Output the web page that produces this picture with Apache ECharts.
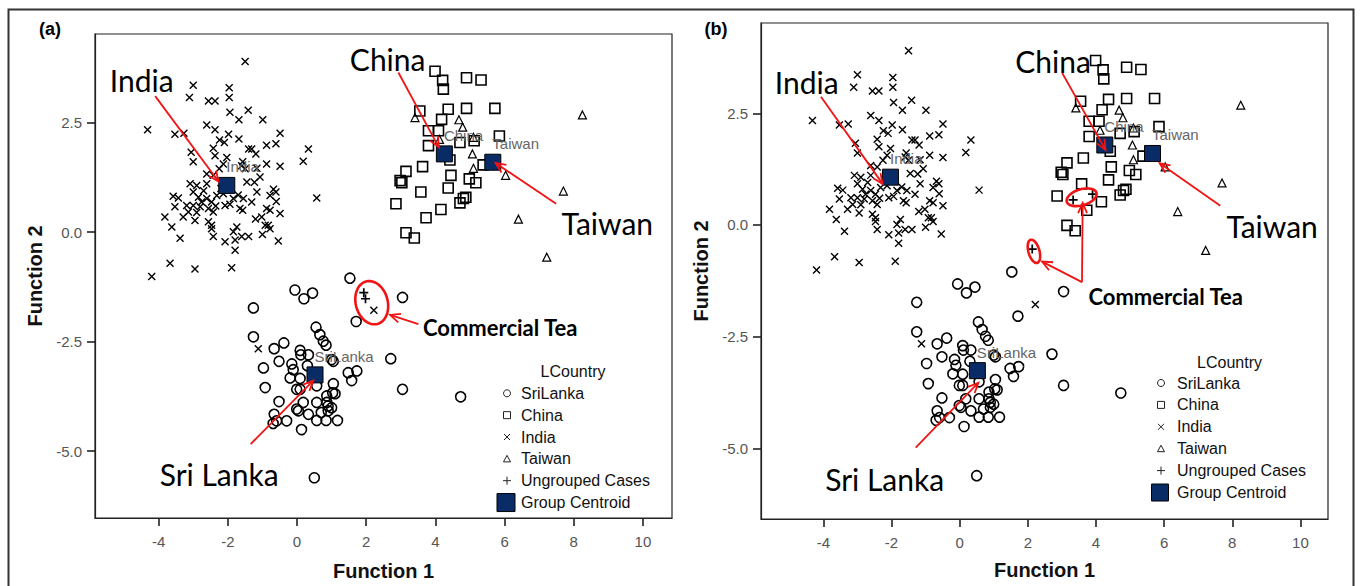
<!DOCTYPE html>
<html>
<head>
<meta charset="utf-8">
<script src="https://cdn.jsdelivr.net/npm/echarts@6.0.0/dist/echarts.min.js"></script>
<style>
  html, body { margin: 0; padding: 0; background: #fff; }
  #chart { width: 1360px; height: 586px; }
</style>
</head>
<body>
<div id="chart"></div>
<script>
// Discriminant function scores (Function 1, Function 2) of tea samples by country of origin

const sriLanka = [
  [1.53,-1.05],[-0.06,-1.32],[0.45,-1.39],[0.20,-1.52],[-1.26,-1.73],[3.05,-1.49],[1.71,-2.04],
  [-1.26,-2.39],[0.55,-2.17],[0.66,-2.34],[0.76,-2.49],[0.84,-2.58],[-0.38,-2.53],[-0.66,-2.66],
  [0.09,-2.70],[0.11,-2.80],[0.33,-2.80],[-0.52,-2.95],[-0.15,-3.01],[-0.11,-3.14],[-0.97,-3.10],
  [1.05,-2.95],[2.71,-2.89],[1.48,-3.21],[1.73,-3.17],[1.58,-3.39],[-0.20,-3.33],[0.09,-3.34],
  [-0.92,-3.55],[-0.01,-3.59],[0.09,-3.59],[0.57,-3.51],[1.05,-3.46],[1.03,-3.67],[1.10,-3.69],
  [0.86,-3.74],[3.05,-3.59],[4.73,-3.76],[-0.52,-3.87],[0.18,-3.89],[0.57,-3.89],[0.86,-3.89],
  [0.90,-3.97],[1.00,-4.01],[-0.01,-4.04],[0.04,-4.08],[0.33,-4.16],[0.90,-4.08],[-0.66,-4.16],
  [-0.59,-4.31],[-0.30,-4.31],[0.57,-4.30],[0.84,-4.30],[1.17,-4.30],[0.13,-4.51],[0.50,-5.61],
  [-0.69,-4.37],[1.00,-2.91],[0.30,-3.05],[0.70,-4.12]
];

const china = [
  [3.99,3.68],[4.21,3.47],[4.23,3.27],[4.90,3.53],[5.32,3.48],[3.55,2.77],[4.37,2.81],[4.90,2.83],
  [5.72,2.83],[4.18,2.58],[3.80,2.32],[4.09,2.32],[3.80,1.98],[4.71,2.05],[5.12,2.09],[5.85,2.20],
  [4.42,1.65],[3.63,1.50],[3.15,1.39],[2.98,1.18],[3.03,1.13],[4.45,1.30],[4.98,1.22],[5.17,1.13],
  [5.38,1.54],[3.58,0.92],[4.37,1.01],[2.86,0.65],[4.16,0.52],[3.73,0.33],[4.71,0.67],[4.81,0.77],
  [4.88,0.80],[3.15,-0.01],[3.39,-0.13]
];

const india = [
  [-1.50,3.90],[-3.00,3.36],[-3.11,3.08],[-2.56,3.00],[-2.37,3.00],[-1.96,3.30],[-1.96,3.08],
  [-1.94,2.74],[-1.41,2.79],[-1.68,2.57],[-0.99,2.57],[-4.32,2.34],[-3.53,2.24],[-3.27,2.26],
  [-2.61,2.45],[-2.37,2.34],[-1.98,2.24],[-1.68,2.13],[-2.24,2.11],[-2.10,2.05],[-1.40,1.90],
  [-1.31,1.90],[-0.88,1.99],[-0.61,2.02],[-0.49,2.26],[0.33,1.90],[0.18,1.62],[0.57,0.78],
  [-3.06,1.83],[-3.00,1.61],[-2.42,1.92],[-2.37,1.75],[-2.03,1.71],[-2.13,1.56],[-1.57,1.61],
  [-1.60,1.52],[-1.50,1.45],[-1.19,1.79],[-1.16,1.46],[-0.88,1.56],[-0.49,1.51],[-2.61,1.33],
  [-2.42,1.30],[-1.23,1.14],[-1.07,1.26],[-3.09,1.11],[-2.90,1.07],[-2.61,1.11],[-1.16,0.92],
  [-0.68,0.98],[-0.61,0.92],[-0.78,0.84],[-3.58,0.82],[-3.43,0.78],[-3.00,0.92],[-2.85,0.80],
  [-2.76,0.69],[-2.61,0.77],[-2.47,0.69],[-2.32,0.84],[-2.13,0.88],[-3.19,0.61],[-3.00,0.61],
  [-2.80,0.58],[-2.56,0.54],[-2.42,0.46],[-1.84,0.77],[-1.55,0.77],[-2.08,0.61],[-1.94,0.64],
  [-1.65,0.54],[-1.57,0.50],[-1.31,0.69],[-0.88,0.54],[-0.78,0.50],[-0.49,0.43],[-3.82,0.35],
  [-3.62,0.12],[-3.38,-0.14],[-3.29,0.35],[-3.14,0.46],[-2.95,0.27],[-2.56,0.24],[-2.47,0.16],
  [-2.47,0.08],[-2.42,-0.10],[-2.08,-0.22],[-1.84,0.01],[-1.74,0.12],[-1.79,-0.18],[-1.60,-0.10],
  [-1.40,-0.10],[-1.79,-0.41],[-1.02,0.35],[-0.92,0.16],[-0.78,0.08],[-0.83,0.16],[-0.54,-0.20],
  [-3.67,-0.71],[-2.95,-0.84],[-1.89,-0.81],[-4.20,-1.01],[-3.53,0.58],[-1.12,-2.66],[2.22,-1.78],
  [-2.70,0.95],[-2.20,1.00],[-2.35,0.60],[-1.70,0.85],[-2.90,0.45],[-1.20,0.30],[-1.45,1.15],
  [-2.25,1.45],[-0.60,0.70],[-1.00,-0.05]
];

const taiwan = [
  [3.41,2.62],[4.68,2.57],[4.79,2.40],[5.10,2.17],[4.12,2.12],[5.07,1.79],[5.10,1.46],[6.03,1.30],
  [8.25,2.68],[7.70,0.94],[6.40,0.30],[7.22,-0.57]
];

// group centroids
const centroidNames = ['SriLanka', 'China', 'India', 'Taiwan'];
const centroidPoints = [[0.52,-3.26],[4.26,1.79],[-2.03,1.07],[5.66,1.60]];

// commercial tea samples (ungrouped cases) for the two analyses
const ungroupedA = [[1.93,-1.38],[1.98,-1.52]];
const ungroupedB = [[3.33,0.56],[3.90,0.69],[2.13,-0.54]];

const xTicks = [-4, -2, 0, 2, 4, 6, 8, 10];
const yTicks = [-5, -2.5, 0, 2.5];

const legendTitle = 'LCountry';
const legendNames = ['SriLanka', 'China', 'India', 'Taiwan', 'Ungrouped Cases', 'Group Centroid'];

// callout labels and arrows, in data units
const calloutText = ['India', 'China', 'Taiwan', 'Sri Lanka', 'Commercial Tea'];
const calloutAtA = [[-4.49,3.47],[2.62,3.97],[8.97,0.22],[-2.25,-5.53],[3.64,-2.17]];
const calloutAtB = [[-4.49,3.21],[2.74,3.68],[9.17,-0.02],[-2.20,-5.68],[3.78,-1.60]];
const arrowsA = [[-4.10,3.11,-2.27,1.16],[2.93,3.65,4.10,1.94],[7.49,0.65,5.74,1.58],[-1.34,-4.84,0.47,-3.39],[3.51,-2.10,2.69,-1.89]];
const arrowsB = [[-4.07,2.87,-2.26,0.92],[3.01,3.40,4.28,1.68],[7.65,0.43,5.87,1.38],[-1.29,-4.98,0.55,-3.53],[3.59,-1.28,3.61,0.49],[3.59,-1.28,2.42,-0.82]];
const ringCentersA = [[2.16,-1.61]];
const ringCentersB = [[3.58,0.62],[2.18,-0.59]];

// ---- layout and styling ----
const RED = '#f01414';
const NAVY = '#0a2c66';
const ringShapesA = [{ rx: 16, ry: 22, tilt: -15 }];
const ringShapesB = [{ rx: 15.5, ry: 8, tilt: -17 }, { rx: 5.5, ry: 12, tilt: -16 }];

const panels = [
  {
    tag: '(a)', tagPos: [50, 29],
    grid: { left: 95, top: 34, width: 577, height: 487 },
    xRange: [-5.84, 10.84], yRange: [-6.53, 4.53],
    xNameGap: 43, yNameGap: 50,
    ungrouped: ungroupedA, calloutAt: calloutAtA, arrows: arrowsA,
    rings: ringCentersA, ringShapes: ringShapesA,
    legend: { titleX: 573, titleY: 371, symX: 507, textX: 521, rowY: 393.3, step: 21.85, bigBox: 18 }
  },
  {
    tag: '(b)', tagPos: [716, 29],
    grid: { left: 761, top: 23, width: 567, height: 496 },
    xRange: [-5.83, 10.81], yRange: [-6.58, 4.52],
    xNameGap: 41, yNameGap: 50,
    ungrouped: ungroupedB, calloutAt: calloutAtB, arrows: arrowsB,
    rings: ringCentersB, ringShapes: ringShapesB,
    legend: { titleX: 1229.5, titleY: 362, symX: 1161, textX: 1177, rowY: 383, step: 21.9, bigBox: 17 }
  }
];

const CROSS = 'path://M0,0L8,8M8,0L0,8';
const PLUS = 'path://M4,0L4,8M0,4L8,4';
const FONT = '"Liberation Sans", Arial, sans-serif';
const CALLOUT_FONT = 'Lato, "Open Sans", sans-serif';

const grids = [], xAxes = [], yAxes = [], series = [], graphics = [];

function hollow(width) {
  return { color: 'rgba(0,0,0,0)', borderColor: '#000', borderWidth: width, opacity: 1 };
}

panels.forEach((p, i) => {
  grids.push(Object.assign({ show: true, borderColor: '#222', borderWidth: 1.2, backgroundColor: '#fff' }, p.grid));

  xAxes.push({
    gridIndex: i, type: 'value', min: p.xRange[0], max: p.xRange[1],
    name: 'Function 1', nameLocation: 'middle', nameGap: p.xNameGap,
    nameTextStyle: { fontFamily: FONT, fontWeight: 'bold', fontSize: 20, color: '#111' },
    axisLine: { show: true, onZero: false, lineStyle: { color: '#222', width: 1.2 } },
    axisTick: { show: true, inside: false, length: 8, customValues: xTicks, lineStyle: { color: '#222', width: 1.6 } },
    axisLabel: { customValues: xTicks, margin: 16, fontFamily: FONT, fontSize: 15, color: '#555' },
    splitLine: { show: false }
  });

  yAxes.push({
    gridIndex: i, type: 'value', min: p.yRange[0], max: p.yRange[1],
    name: 'Function 2', nameLocation: 'middle', nameGap: p.yNameGap, nameRotate: 90,
    nameTextStyle: { fontFamily: FONT, fontWeight: 'bold', fontSize: 20, color: '#111' },
    axisLine: { show: true, onZero: false, lineStyle: { color: '#222', width: 1.2 } },
    axisTick: { show: true, inside: false, length: 8, customValues: yTicks, lineStyle: { color: '#222', width: 1.6 } },
    axisLabel: { customValues: yTicks, margin: 13, fontFamily: FONT, fontSize: 15, color: '#555',
                 formatter: v => Number(v).toFixed(1) },
    splitLine: { show: false }
  });

  const base = { type: 'scatter', xAxisIndex: i, yAxisIndex: i, silent: true, animation: false };

  series.push(Object.assign({}, base, { name: 'SriLanka', data: sriLanka, symbol: 'circle', symbolSize: 10, itemStyle: hollow(1.6), z: 2 }));
  series.push(Object.assign({}, base, { name: 'China', data: china, symbol: 'rect', symbolSize: 10, itemStyle: hollow(1.6), z: 2 }));
  series.push(Object.assign({}, base, { name: 'India', data: india, symbol: CROSS, symbolSize: 7, itemStyle: hollow(1.4), z: 2 }));
  series.push(Object.assign({}, base, { name: 'Taiwan', data: taiwan, symbol: 'triangle', symbolSize: 8, itemStyle: hollow(1.2), z: 2 }));
  series.push(Object.assign({}, base, { name: 'Ungrouped Cases', data: p.ungrouped, symbol: PLUS, symbolSize: 9, itemStyle: hollow(1.7), z: 3 }));
  series.push(Object.assign({}, base, {
    name: 'Group Centroid',
    data: centroidNames.map((n, k) => ({ name: n, value: centroidPoints[k] })),
    symbol: 'rect', symbolSize: 16,
    itemStyle: { color: NAVY, borderColor: '#000', borderWidth: 1, opacity: 1 },
    label: { show: true, formatter: '{b}', position: [8, -10], align: 'left', verticalAlign: 'middle',
             fontFamily: FONT, fontSize: 15, color: '#666', opacity: 1 },
    z: 4
  }));

  // red rings around the commercial tea samples
  series.push({
    type: 'custom', xAxisIndex: i, yAxisIndex: i, silent: true, animation: false, clip: false, z: 6,
    data: p.rings,
    renderItem: (params, api) => {
      const c = api.coord([api.value(0), api.value(1)]);
      const s = p.ringShapes[params.dataIndex];
      const th = s.tilt * Math.PI / 180;
      const pts = [];
      for (let k = 0; k < 48; k++) {
        const t = k / 48 * Math.PI * 2;
        const lx = s.rx * Math.cos(t), ly = s.ry * Math.sin(t);
        pts.push([c[0] + lx * Math.cos(th) - ly * Math.sin(th), c[1] + lx * Math.sin(th) + ly * Math.cos(th)]);
      }
      return { type: 'polygon', shape: { points: pts }, style: { fill: 'none', stroke: RED, lineWidth: 2.6 } };
    }
  });

  // callout arrows
  series.push({
    type: 'custom', xAxisIndex: i, yAxisIndex: i, silent: true, animation: false, clip: false, z: 6,
    data: p.arrows, encode: { x: [0, 2], y: [1, 3] },
    renderItem: (params, api) => {
      const a = api.coord([api.value(0), api.value(1)]);
      const b = api.coord([api.value(2), api.value(3)]);
      const ang = Math.atan2(b[1] - a[1], b[0] - a[0]);
      const L = 11, sp = 0.42;
      const h1 = [b[0] - L * Math.cos(ang - sp), b[1] - L * Math.sin(ang - sp)];
      const h2 = [b[0] - L * Math.cos(ang + sp), b[1] - L * Math.sin(ang + sp)];
      return {
        type: 'group',
        children: [
          { type: 'line', shape: { x1: a[0], y1: a[1], x2: b[0], y2: b[1] }, style: { stroke: RED, lineWidth: 1.8 } },
          { type: 'polyline', shape: { points: [h1, b, h2] }, style: { fill: 'none', stroke: RED, lineWidth: 1.8 } }
        ]
      };
    }
  });

  // callout labels
  series.push({
    type: 'custom', xAxisIndex: i, yAxisIndex: i, silent: true, animation: false, clip: false, z: 7,
    data: p.calloutAt,
    renderItem: (params, api) => {
      const c = api.coord([api.value(0), api.value(1)]);
      const txt = calloutText[params.dataIndex];
      const small = txt === 'Commercial Tea';
      return {
        type: 'text', x: c[0], y: c[1],
        style: {
          text: txt,
          font: small ? ('bold 22px ' + CALLOUT_FONT) : ('30px ' + CALLOUT_FONT),
          fill: '#000',
          align: small ? 'left' : 'center', textAlign: small ? 'left' : 'center',
          verticalAlign: 'middle', textVerticalAlign: 'middle'
        }
      };
    }
  });

  // panel tag
  graphics.push({
    type: 'text', x: p.tagPos[0], y: p.tagPos[1],
    style: { text: p.tag, font: 'bold 18px ' + FONT, fill: '#000', align: 'center', textAlign: 'center',
             verticalAlign: 'middle', textVerticalAlign: 'middle' }
  });

  // legend block
  const lg = p.legend;
  graphics.push({
    type: 'text', x: lg.titleX, y: lg.titleY,
    style: { text: legendTitle, font: '16px ' + FONT, fill: '#111', align: 'center', textAlign: 'center',
             verticalAlign: 'middle', textVerticalAlign: 'middle' }
  });
  legendNames.forEach((name, k) => {
    const y = lg.rowY + k * lg.step, x = lg.symX;
    const stroke = { fill: 'none', stroke: '#222', lineWidth: 1 };
    let icon;
    if (name === 'SriLanka') icon = { type: 'circle', shape: { cx: x, cy: y, r: 3.5 }, style: stroke };
    else if (name === 'China') icon = { type: 'rect', shape: { x: x - 3.5, y: y - 3.5, width: 7, height: 7 }, style: stroke };
    else if (name === 'India') icon = { type: 'group', children: [
      { type: 'line', shape: { x1: x - 3, y1: y - 3, x2: x + 3, y2: y + 3 }, style: stroke },
      { type: 'line', shape: { x1: x + 3, y1: y - 3, x2: x - 3, y2: y + 3 }, style: stroke }] };
    else if (name === 'Taiwan') icon = { type: 'polygon', shape: { points: [[x, y - 3.5], [x + 3.5, y + 3], [x - 3.5, y + 3]] }, style: stroke };
    else if (name === 'Ungrouped Cases') icon = { type: 'group', children: [
      { type: 'line', shape: { x1: x, y1: y - 4, x2: x, y2: y + 4 }, style: stroke },
      { type: 'line', shape: { x1: x - 4, y1: y, x2: x + 4, y2: y }, style: stroke }] };
    else icon = { type: 'rect', shape: { x: x - 1 - lg.bigBox / 2, y: y - lg.bigBox / 2, width: lg.bigBox, height: lg.bigBox },
                  style: { fill: NAVY, stroke: '#000', lineWidth: 1 } };
    graphics.push(icon);
    graphics.push({
      type: 'text', x: lg.textX, y: y,
      style: { text: name, font: '16px ' + FONT, fill: '#111', align: 'left', textAlign: 'left',
               verticalAlign: 'middle', textVerticalAlign: 'middle' }
    });
  });
});

// outer frame of the figure
graphics.push({
  type: 'rect', z: -10, silent: true,
  shape: { x: 8.5, y: 9.5, width: 1345, height: 600 },
  style: { fill: 'none', stroke: '#333', lineWidth: 2 }
});

const chart = echarts.init(document.getElementById('chart'), null, { renderer: 'svg' });
chart.setOption({
  animation: false,
  backgroundColor: '#fff',
  grid: grids,
  xAxis: xAxes,
  yAxis: yAxes,
  series: series,
  graphic: { elements: graphics }
});
</script>
</body>
</html>
